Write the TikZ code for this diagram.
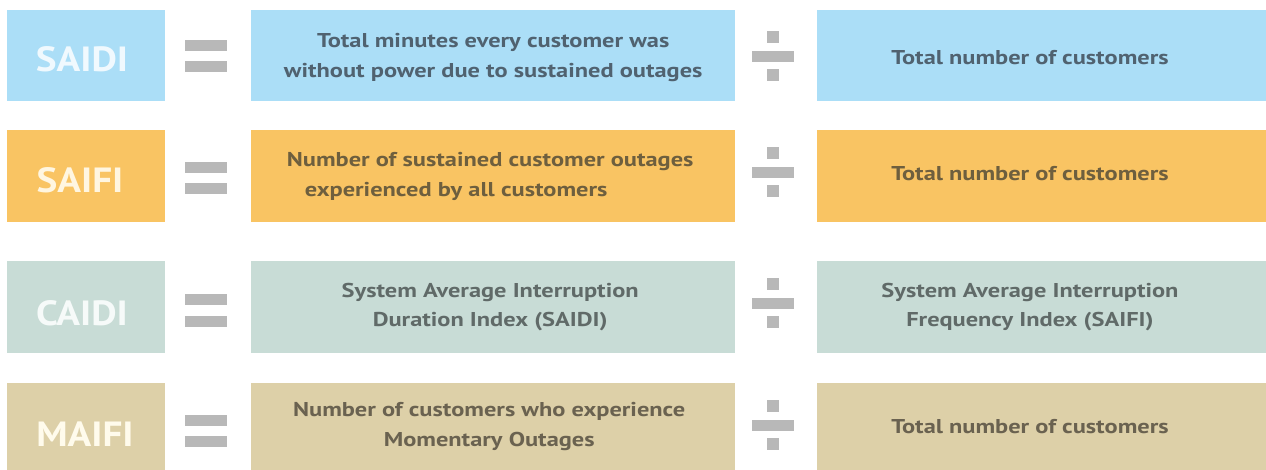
\documentclass[tikz,border=0pt]{standalone}
\usepackage{fontspec}
\setmainfont{PT Sans}
\newfontfamily\midfont[FakeStretch=1.22]{PT Sans}
\newfontfamily\lblfont[FakeStretch=1.12]{PT Sans}
\definecolor{cblue}{RGB}{171,222,247}
\definecolor{corange}{RGB}{249,196,99}
\definecolor{csage}{RGB}{200,220,214}
\definecolor{ctan}{RGB}{221,208,168}
\definecolor{tblue}{RGB}{80,98,112}
\definecolor{torange}{RGB}{110,95,62}
\definecolor{tsage}{RGB}{96,106,104}
\definecolor{ttan}{RGB}{106,98,80}
\definecolor{lblue}{RGB}{240,249,254}
\definecolor{lorange}{RGB}{255,246,225}
\definecolor{lsage}{RGB}{246,250,249}
\definecolor{ltan}{RGB}{255,251,236}
\definecolor{symgray}{RGB}{184,184,184}
\begin{document}
\begin{tikzpicture}[x=1pt,y=-1pt,
  box/.style={fill=#1, draw=none, inner sep=0pt, anchor=north west},
  lbl/.style={text=#1, inner sep=0pt, font=\lblfont\bfseries\fontsize{35}{35}\selectfont},
  mtxt/.style={text=#1, align=center, font=\midfont\bfseries\fontsize{20}{29.5}\selectfont},
  sym/.style={fill=symgray}]
\useasboundingbox (0,0) rectangle (1266,470);
\fill[white] (0,0) rectangle (1266,470);

% Row 1
\node[box=cblue, minimum width=158pt, minimum height=91pt] (r1a) at (7,10) {};
\node[box=cblue, minimum width=484pt, minimum height=91pt] (r1b) at (251,10) {};
\node[box=cblue, minimum width=449pt, minimum height=91pt] (r1c) at (817,10) {};
\node[lbl=lblue] (t1a) at (82,59.5) {SAIDI};
\node[mtxt=tblue] (t1b) at ([yshift=-2pt]r1b.center) {Total minutes every customer was\\without power due to sustained outages};
\node[mtxt=tblue] (t1c) at (1030,58) {Total number of customers};

% Row 2
\node[box=corange, minimum width=158pt, minimum height=92pt] (r2a) at (7,130) {};
\node[box=corange, minimum width=484pt, minimum height=92pt] (r2b) at (251,130) {};
\node[box=corange, minimum width=449pt, minimum height=92pt] (r2c) at (817,130) {};
\node[lbl=lorange] (t2a) at (80,180) {SAIFI};
\node[mtxt=torange, align=left] (t2b) at ([xshift=-3pt]r2b.center) {Number of sustained customer outages\\\hspace*{18pt}experienced by all customers};
\node[mtxt=torange] (t2c) at (1030,174) {Total number of customers};

% Row 3
\node[box=csage, minimum width=158pt, minimum height=92pt] (r3a) at (7,261) {};
\node[box=csage, minimum width=484pt, minimum height=92pt] (r3b) at (251,261) {};
\node[box=csage, minimum width=449pt, minimum height=92pt] (r3c) at (817,261) {};
\node[lbl=lsage] (t3a) at (82,313) {CAIDI};
\node[mtxt=tsage] (t3b) at ([xshift=-3pt]r3b.center) {System Average Interruption\\Duration Index (SAIDI)};
\node[mtxt=tsage] (t3c) at (1030,307) {System Average Interruption\\Frequency Index (SAIFI)};

% Row 4
\node[box=ctan, minimum width=158pt, minimum height=87pt] (r4a) at (7,383) {};
\node[box=ctan, minimum width=484pt, minimum height=87pt] (r4b) at (251,383) {};
\node[box=ctan, minimum width=449pt, minimum height=87pt] (r4c) at (817,383) {};
\node[lbl=ltan] (t4a) at (85,434) {MAIFI};
\node[mtxt=ttan] (t4b) at ([xshift=-4pt]r4b.center) {Number of customers who experience\\Momentary Outages};
\node[mtxt=ttan] (t4c) at (1030,427) {Total number of customers};

% equals signs
\foreach \c in {56,178,310.5,431}{
  \fill[sym] (185,\c-16) rectangle (227,\c-5);
  \fill[sym] (185,\c+5) rectangle (227,\c+16);
}
% divide signs
\foreach \c in {56.5,171.7,303,425}{
  \fill[sym] (767,\c-25) rectangle (779,\c-13);
  \fill[sym] (752,\c-5) rectangle (794,\c+6);
  \fill[sym] (767,\c+13) rectangle (779,\c+25);
}
\end{tikzpicture}
\end{document}
